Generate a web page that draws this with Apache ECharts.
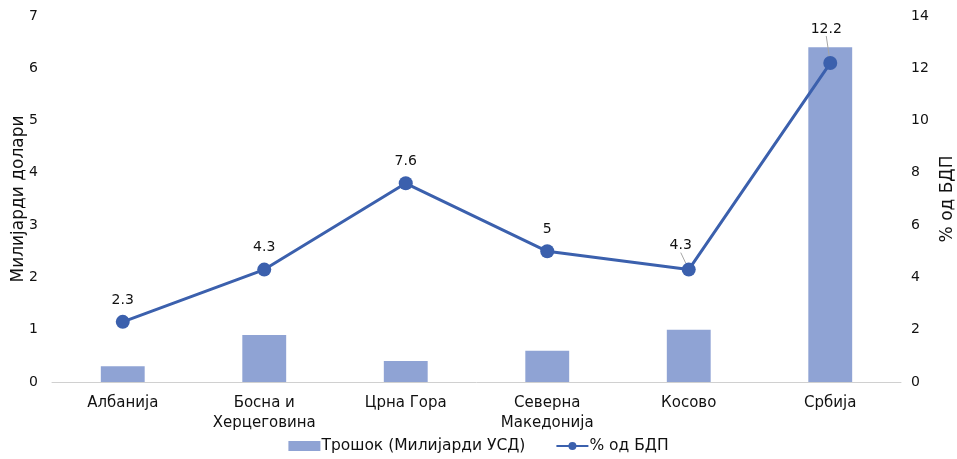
<!DOCTYPE html>
<html>
<head>
<meta charset="utf-8">
<script src="https://cdn.jsdelivr.net/npm/echarts@6/dist/echarts.min.js"></script>
<style>
  html, body { margin: 0; padding: 0; background: #ffffff; }
  #chart { width: 957px; height: 459px; }
</style>
</head>
<body>
<div id="chart"></div>
<script>
// Military spending in the Western Balkans
const categories = ['Албанија', 'Босна и\nХерцеговина', 'Црна Гора', 'Северна\nМакедонија', 'Косово', 'Србија'];
const spending = [0.3, 0.9, 0.4, 0.6, 1.0, 6.4];       // billions USD
const gdpShare = [2.3, 4.3, 7.6, 5, 4.3, 12.2];        // % of GDP
const leftTicks = [0, 1, 2, 3, 4, 5, 6, 7];
const rightTicks = [0, 2, 4, 6, 8, 10, 12, 14];
// points whose value label is pulled away and tied back with a leader line
const ledLabels = [4, 5];

const FONT = '"DejaVu Sans", "Noto Sans", sans-serif';
const TEXT = '#111111';
const BAR = '#8fa3d4';
const LINE = '#3b60ad';
const W = 'normal';

const chart = echarts.init(document.getElementById('chart'), null, { renderer: 'canvas' });

chart.setOption({
  animation: false,
  textStyle: { fontFamily: FONT, color: TEXT },
  grid: { left: 52, right: 56, top: 16, bottom: 77, outerBoundsMode: 'none', containLabel: false },
  legend: {
    bottom: 0,
    left: 'center',
    itemGap: 30,
    itemWidth: 32,
    itemHeight: 10,
    textStyle: { fontFamily: FONT, fontSize: 15.5, fontWeight: W, color: TEXT, padding: [0, 0, 0, -4] },
    data: [
      { name: 'Трошок (Милијарди УСД)', icon: 'rect' },
      { name: '% од БДП' }
    ]
  },
  xAxis: {
    type: 'category',
    data: categories,
    axisLine: { lineStyle: { color: '#d0d0d0', width: 1 } },
    axisTick: { show: false },
    axisLabel: { fontFamily: FONT, fontSize: 15, fontWeight: W, color: TEXT, margin: 11, lineHeight: 20 }
  },
  yAxis: [
    {
      type: 'value',
      min: leftTicks[0],
      max: leftTicks[leftTicks.length - 1],
      interval: 1,
      name: 'Милијарди долари',
      nameLocation: 'middle',
      nameMoveOverlap: false,
      nameGap: 25,
      nameRotate: 90,
      nameTextStyle: { fontFamily: FONT, fontSize: 17, fontWeight: W, color: TEXT },
      splitLine: { show: false },
      axisLine: { show: false },
      axisTick: { show: false },
      axisLabel: { fontFamily: FONT, fontSize: 14, fontWeight: W, color: TEXT, margin: 14 }
    },
    {
      type: 'value',
      min: rightTicks[0],
      max: rightTicks[rightTicks.length - 1],
      interval: 2,
      name: '% од БДП',
      nameLocation: 'middle',
      nameMoveOverlap: false,
      nameGap: 38,
      nameRotate: 90,
      nameTextStyle: { fontFamily: FONT, fontSize: 17, fontWeight: W, color: TEXT },
      splitLine: { show: false },
      axisLine: { show: false },
      axisTick: { show: false },
      axisLabel: { fontFamily: FONT, fontSize: 14, fontWeight: W, color: TEXT, margin: 10 }
    }
  ],
  series: [
    {
      name: 'Трошок (Милијарди УСД)',
      type: 'bar',
      yAxisIndex: 0,
      data: spending,
      barWidth: '31%',
      itemStyle: { color: BAR }
    },
    {
      name: '% од БДП',
      type: 'line',
      yAxisIndex: 1,
      data: gdpShare.map(function (v, i) {
        return ledLabels.indexOf(i) >= 0 ? { value: v, labelLine: { show: true } } : v;
      }),
      symbol: 'circle',
      symbolSize: 14,
      lineStyle: { color: LINE, width: 3 },
      itemStyle: { color: LINE },
      label: {
        show: true,
        position: 'top',
        distance: 8,
        fontFamily: FONT,
        fontSize: 14,
        fontWeight: W,
        color: TEXT
      },
      labelLine: {
        show: false,
        lineStyle: { color: '#a6a6a6', width: 1 }
      },
      labelLayout: function (params) {
        if (params.dataIndex === 4) return { dx: -8, dy: -2 };
        if (params.dataIndex === 5) return { dx: -4, dy: -12 };
        return {};
      }
    }
  ]
});
</script>
</body>
</html>
